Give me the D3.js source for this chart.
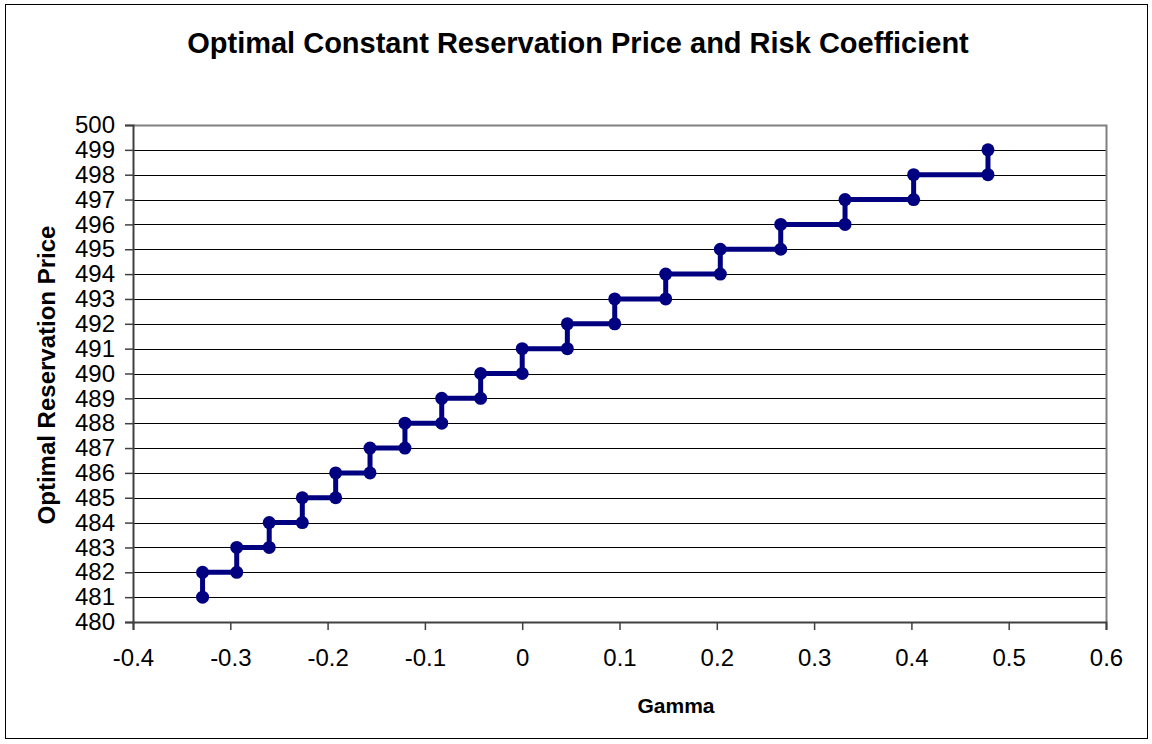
<!DOCTYPE html>
<meta charset="utf-8">
<title>Optimal Constant Reservation Price</title>
<script src="https://cdn.jsdelivr.net/npm/d3@7"></script>
<style>
body { margin: 0; background: #fff; }
text { font-family: "Liberation Sans", Arial, sans-serif; fill: #000; }
</style>
<body>
<script>

// step points: each gamma appears twice, price steps up by one
var gamma = [-0.3285, -0.3285, -0.2934, -0.2934, -0.260, -0.260, -0.226, -0.226,
  -0.1917, -0.1917, -0.1564, -0.1564, -0.1205, -0.1205, -0.0827, -0.0827,
  -0.0427, -0.0427, 0.0, 0.0, 0.0464, 0.0464, 0.0951, 0.0951,
  0.1475, 0.1475, 0.2036, 0.2036, 0.2657, 0.2657, 0.3318, 0.3318,
  0.4023, 0.4023, 0.4787, 0.4787];
var price = [481, 482, 482, 483, 483, 484, 484, 485,
  485, 486, 486, 487, 487, 488, 488, 489,
  489, 490, 490, 491, 491, 492, 492, 493,
  493, 494, 494, 495, 495, 496, 496, 497,
  497, 498, 498, 499];

var xTicks = [-0.4, -0.3, -0.2, -0.1, 0, 0.1, 0.2, 0.3, 0.4, 0.5, 0.6];
var yTicks = d3.range(480, 501, 1);

var W = 1152, H = 744;
var plot = {left: 133, right: 1106, top: 125, bottom: 622};

var svg = d3.select("body").append("svg")
    .attr("width", W)
    .attr("height", H);

svg.append("rect")
    .attr("x", 5.5).attr("y", 4.5)
    .attr("width", 1142).attr("height", 734)
    .attr("fill", "#fff")
    .attr("stroke", "#000");

var x = d3.scaleLinear().domain([-0.4, 0.6]).range([plot.left, plot.right]);
var y = d3.scaleLinear().domain([480, 500]).range([plot.bottom, plot.top]);

// gridlines
svg.append("g")
  .selectAll("line")
  .data(yTicks.slice(1, -1))
  .enter().append("line")
    .attr("x1", plot.left).attr("x2", plot.right)
    .attr("y1", function(d){ return Math.round(y(d)) + 0.5; })
    .attr("y2", function(d){ return Math.round(y(d)) + 0.5; })
    .attr("stroke", "#000")
    .attr("stroke-width", 1);

// plot frame (top + right grey)
svg.append("path")
    .attr("d", "M" + plot.left + "," + (plot.top + 0.5) + "H" + (plot.right + 0.5) + "V" + plot.bottom)
    .attr("fill", "none")
    .attr("stroke", "#808080")
    .attr("stroke-width", 2);

var fmt = function(d){ return String(+d.toFixed(1)); };

var xAxis = svg.append("g")
    .attr("transform", "translate(0," + plot.bottom + ")")
    .call(d3.axisBottom(x).tickValues(xTicks).tickSize(8).tickPadding(19).tickFormat(fmt));

var yAxis = svg.append("g")
    .attr("transform", "translate(" + plot.left + ",0)")
    .call(d3.axisLeft(y).tickValues(yTicks).tickSize(8).tickPadding(10));

[xAxis, yAxis].forEach(function(a){
  a.select(".domain").attr("stroke", "#404040").attr("stroke-width", 2);
  a.selectAll(".tick line").attr("stroke", "#404040").attr("stroke-width", 1.5);
  a.selectAll(".tick text")
    .attr("font-size", "24px")
    .attr("font-family", "Liberation Sans, Arial, sans-serif")
    .attr("fill", "#000");
});

// step line
var pts = gamma.map(function(g, i){ return [g, price[i]]; });

svg.append("path")
    .datum(pts)
    .attr("fill", "none")
    .attr("stroke", "#000080")
    .attr("stroke-width", 5)
    .attr("stroke-linejoin", "round")
    .attr("d", d3.line()
      .x(function(d){ return x(d[0]); })
      .y(function(d){ return y(d[1]); }));

svg.append("g")
  .selectAll("circle")
  .data(pts)
  .enter().append("circle")
    .attr("cx", function(d){ return x(d[0]); })
    .attr("cy", function(d){ return y(d[1]); })
    .attr("r", 6.5)
    .attr("fill", "#000080");

// titles
svg.append("text")
    .attr("x", 578).attr("y", 53)
    .attr("text-anchor", "middle")
    .attr("font-size", "29px")
    .attr("font-weight", "bold")
    .text("Optimal Constant Reservation Price and Risk Coefficient");

svg.append("text")
    .attr("x", 676).attr("y", 713)
    .attr("text-anchor", "middle")
    .attr("font-size", "21px")
    .attr("font-weight", "bold")
    .text("Gamma");

svg.append("text")
    .attr("transform", "translate(55,375) rotate(-90)")
    .attr("text-anchor", "middle")
    .attr("font-size", "24px")
    .attr("font-weight", "bold")
    .text("Optimal Reservation Price");

</script>
</body>
</html>
